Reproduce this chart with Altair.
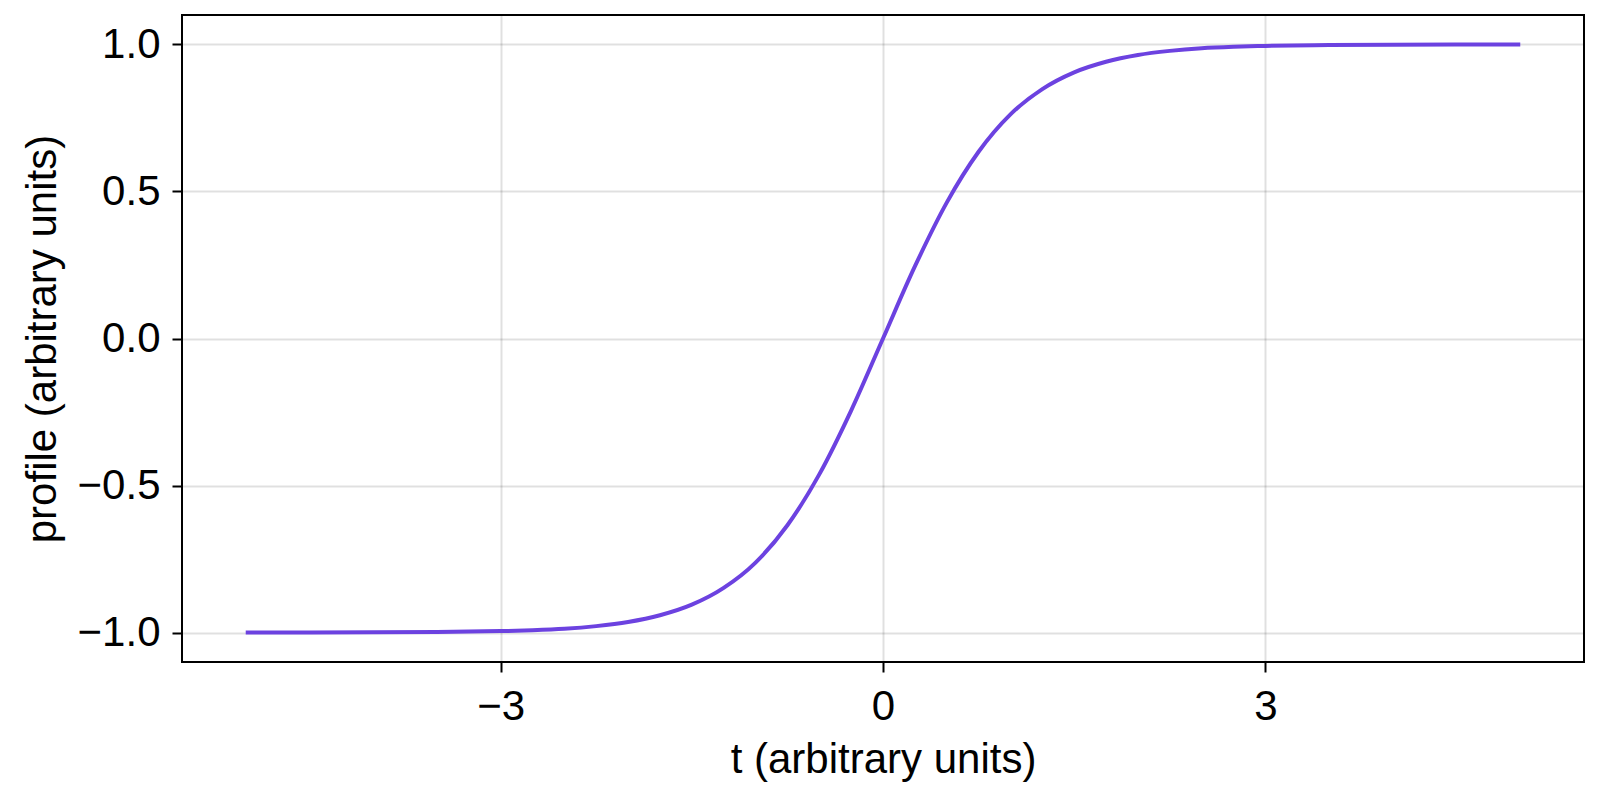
import altair as alt
import pandas as pd

# values
t_values = [-5.0, -4.5, -4.0, -3.5, -3.0, -2.75, -2.5, -2.25, -2.0, -1.75, -1.5,
            -1.25, -1.0, -0.75, -0.5, -0.25, 0.0, 0.25, 0.5, 0.75, 1.0, 1.25,
            1.5, 1.75, 2.0, 2.25, 2.5, 2.75, 3.0, 3.5, 4.0, 4.5, 5.0]
profile_values = [-1.000, -1.000, -0.999, -0.998, -0.995, -0.992, -0.987, -0.978,
                  -0.964, -0.941, -0.905, -0.848, -0.762, -0.635, -0.462, -0.245,
                  0.000, 0.245, 0.462, 0.635, 0.762, 0.848, 0.905, 0.941, 0.964,
                  0.978, 0.987, 0.992, 0.995, 0.998, 0.999, 1.000, 1.000]
x_ticks = [-3, 0, 3]
y_ticks = [-1.0, -0.5, 0.0, 0.5, 1.0]

df = pd.DataFrame({"t": t_values, "profile": profile_values})

FONT = "Liberation Sans"

chart = alt.Chart(df).mark_line(
    color="#6c42e0", strokeWidth=4, interpolate="monotone"
).encode(
    x=alt.X("t:Q",
            scale=alt.Scale(domain=[-5.5, 5.5], nice=False, zero=False),
            axis=alt.Axis(values=x_ticks, format="d", title="t (arbitrary units)",
                          titleBaseline="alphabetic", titleY=110,
                          labelPadding=14)),
    y=alt.Y("profile:Q",
            scale=alt.Scale(domain=[-1.1, 1.1], nice=False, zero=False),
            axis=alt.Axis(values=y_ticks, format=".1f", title="profile (arbitrary units)",
                          titleBaseline="alphabetic", titleX=-127,
                          labelPadding=12)),
).properties(
    width=1402, height=647,
    background="white",
    autosize=alt.AutoSizeParams(type="none"),
    padding={"left": 174, "top": 7, "right": 8, "bottom": 130},
).configure_view(
    stroke="black", strokeWidth=2
).configure_axis(
    domain=False,
    grid=True, gridColor="#000000", gridOpacity=0.12, gridWidth=2,
    ticks=True, tickColor="black", tickSize=10, tickWidth=2,
    labelFont=FONT, labelFontSize=42, labelColor="black",
    titleFont=FONT, titleFontSize=42, titleColor="black", titleFontWeight="normal",
)

chart.save("out.html", embed_options={"renderer": "svg", "actions": False})
